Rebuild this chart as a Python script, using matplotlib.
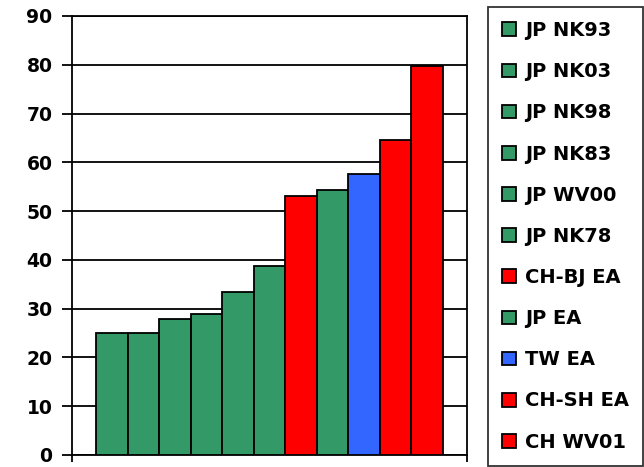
import matplotlib
matplotlib.use("Agg")
import matplotlib.pyplot as plt
from matplotlib.patches import Patch

labels = ["JP NK93", "JP NK03", "JP NK98", "JP NK83", "JP WV00", "JP NK78",
          "CH-BJ EA", "JP EA", "TW EA", "CH-SH EA", "CH WV01"]
values = [25.0, 25.0, 27.8, 29.0, 33.4, 38.8, 53.1, 54.3, 57.6, 64.6, 79.7]
groups = ["JP", "JP", "JP", "JP", "JP", "JP", "CH", "JP", "TW", "CH", "CH"]
color_map = {"JP": "#339966", "CH": "#FF0000", "TW": "#3366FF"}
yticks = [0, 10, 20, 30, 40, 50, 60, 70, 80, 90]

plt.rcParams['font.family'] = ['DejaVu Sans']
plt.rcParams['font.weight'] = 'bold'

fig = plt.figure(figsize=(6.44, 4.67), dpi=100)
ax = fig.add_axes([72/644, 1-455/467, (467-72)/644, (455-16)/467])

colors = [color_map[g] for g in groups]
xs = list(range(len(values)))
ax.bar(xs, values, width=1.0, color=colors, edgecolor='black', linewidth=1.3, zorder=3)

ax.set_ylim(0, 90)
ax.set_yticks(yticks)
ax.set_yticklabels([str(t) for t in yticks], fontsize=13.5, fontweight='bold')
margin = 0.76
ax.set_xlim(-0.5 - margin, len(values) - 0.5 + margin)
ax.set_xticks([-0.5 - margin, len(values) - 0.5 + margin])
ax.set_xticklabels([])
ax.tick_params(axis='x', length=5, width=1.3, direction='out')
ax.tick_params(axis='y', length=7, width=1.3, direction='out', pad=7)
ax.grid(axis='y', color='black', linewidth=1.3, zorder=0)
for s in ax.spines.values():
    s.set_linewidth(1.3)
    s.set_color('black')

handles = [Patch(facecolor=c, edgecolor='black', linewidth=1.3) for c in colors]
leg = fig.legend(handles, labels, loc='upper left', bbox_to_anchor=(488/644, 1-7/467),
                 bbox_transform=fig.transFigure, borderaxespad=0,
                 prop={'size': 14, 'weight': 'bold'}, frameon=True, fancybox=False,
                 edgecolor='black', handlelength=0.7, handleheight=0.7,
                 handletextpad=0.5, labelspacing=1.14, borderpad=0.72)
leg.get_frame().set_linewidth(1.3)

fig.savefig("out.png", dpi=100)
